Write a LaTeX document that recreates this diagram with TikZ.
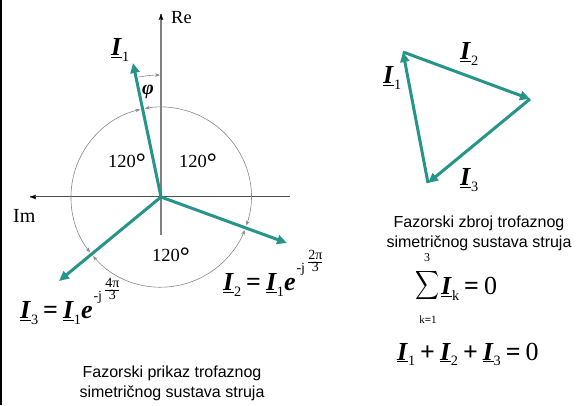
\documentclass[tikz,border=0pt]{standalone}
\usepackage{fontspec}
\setmainfont{Liberation Serif}
\newfontfamily\sansf{Liberation Sans}
\usetikzlibrary{arrows.meta,calc}
\definecolor{tealv}{RGB}{38,148,136}
\definecolor{arcgray}{RGB}{135,135,135}
\newcommand{\Iu}{\underline{\textbf{\textit{I}}}}
\newcommand{\ssub}[1]{\raisebox{-0.2em}{\scalebox{0.55}{#1}}}
\newcommand{\bop}[1]{\kern5pt\textbf{#1}\kern5pt}
\newcommand{\degr}{\raisebox{-0.12em}{\scalebox{1.35}{\bfseries°}}}
\newcommand{\expo}[1]{\textbf{\textit{e}}\kern1pt\raisebox{0.72em}{\fontsize{14}{14}\selectfont -j}\kern2pt\raisebox{0.98em}{\fontsize{14}{14}\selectfont$\frac{\hbox{#1}}{\hbox{3}}$}}
\tikzset{
  vec/.style={draw=tealv, line width=3pt, -{Triangle[length=10pt,width=9pt]}},
  arcline/.style={draw=arcgray, line width=0.6pt, {Stealth[length=5pt,width=3.5pt]}-{Stealth[length=5pt,width=3.5pt]}},
  philine/.style={draw=arcgray, line width=0.6pt, -{Stealth[length=5pt,width=3.5pt]}},
  lbl/.style={inner sep=0pt, font=\fontsize{18.5}{20}\selectfont},
  mth/.style={inner sep=0pt, font=\fontsize{26}{28}\selectfont},
  captxt/.style={inner sep=0pt, align=center, font=\sansf\fontsize{16}{20}\selectfont},
  axisarrow/.style={-{Stealth[length=6pt,width=4.5pt]}}
}
\begin{document}
\begin{tikzpicture}[x=1pt,y=1pt]
\useasboundingbox (0,0) rectangle (582,405);
\draw[line width=2pt] (1,0) -- (1,405);
% coordinates
\coordinate (O) at (161,208);
\coordinate (ReTop) at (161,391);
\coordinate (ReBot) at (161,170);
\coordinate (ImL) at (30,208);
\coordinate (ImR) at (290,208);
\coordinate (T1) at (133,342);
\coordinate (T2) at (287,162);
\coordinate (T3) at (59,124);
% axes
\draw[black!50, line width=1.2pt] (ReBot) -- (ReTop);
\draw[black, axisarrow, line width=0.1pt] ($(ReTop)+(0,-6)$) -- (ReTop);
\draw[black!70, line width=1pt] (ImR) -- (ImL);
\draw[black, axisarrow, line width=0.1pt] ($(ImL)+(6,0)$) -- (ImL);
% arcs
\draw[arcline] ($(O)+(-18.6:90)$) arc[start angle=-18.6, end angle=100.3, radius=90];
\draw[arcline] ($(O)+(103.3:90)$) arc[start angle=103.3, end angle=218.0, radius=90];
\draw[arcline] ($(O)+(221.0:90)$) arc[start angle=221.0, end angle=338.5, radius=90];
\draw[philine] ($(O)+(100.6:122)$) arc[start angle=100.6, end angle=90.4, radius=122];
% vectors
\draw[vec] (O) -- (T1);
\draw[vec] (O) -- (T2);
\draw[vec] (O) -- (T3);
% labels
\node[lbl, anchor=base west] (re) at (171,381) {Re};
\node[lbl, anchor=base west, font=\fontsize{20}{22}\selectfont] (im) at (13,182) {Im};
\node[lbl, anchor=base] (a1) at (127,237) {120\degr};
\node[lbl, anchor=base] (a2) at (198,237) {120\degr};
\node[lbl, anchor=base] (a3) at (171,143) {120\degr};
\node[mth, anchor=base west] (l1) at (111,349) {\Iu\ssub{1}};
\node[inner sep=0pt, font=\fontsize{20}{22}\selectfont\bfseries\itshape] (phi) at (148,313) {φ};
\node[mth, anchor=base west] (f3) at (20,86) {\Iu\ssub{3}\bop{=}\Iu\ssub{1}\expo{4π}};
\node[mth, anchor=base west] (f2) at (223,114) {\Iu\ssub{2}\bop{=}\Iu\ssub{1}\expo{2π}};
\node[captxt] (capL) at (172,22) {Fazorski prikaz trofaznog\\simetričnog sustava struja};
% triangle
\coordinate (A) at (403,353);
\coordinate (B) at (530,306);
\coordinate (C) at (428,222);
\draw[vec] (A) -- (B);
\draw[vec] (B) -- (C);
\draw[vec] (C) -- (A);
\node[mth, anchor=base west] (t1) at (383,321) {\Iu\ssub{1}};
\node[mth, anchor=base west] (t2) at (460,345) {\Iu\ssub{2}};
\node[mth, anchor=base west] (t3) at (460,219) {\Iu\ssub{3}};
\node[captxt] (capR) at (479,172) {Fazorski zbroj trofaznog\\simetričnog sustava struja};
% sum
\node[inner sep=0pt] (sig) at (427,119) {\resizebox*{24pt}{32pt}{$\displaystyle\sum$}};
\node[inner sep=0pt, font=\fontsize{12}{12}\selectfont] (up) at (427,147) {3};
\node[inner sep=0pt, font=\fontsize{11}{11}\selectfont] (lo) at (428,85) {k\textbf{=}1};
\node[mth, anchor=base west] (sk) at (441,110) {\Iu\ssub{k}\bop{=}0};
\node[mth, anchor=base west] (sum3) at (397,45) {\Iu\ssub{1}\bop{+}\Iu\ssub{2}\bop{+}\Iu\ssub{3}\bop{=}0};
\end{tikzpicture}
\end{document}
